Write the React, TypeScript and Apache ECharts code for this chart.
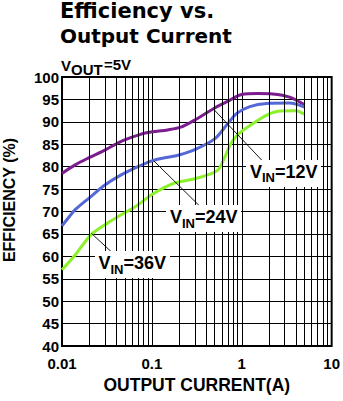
import React, { useEffect, useRef } from 'react';
import * as echarts from 'echarts';

// ---- data ----
const seriesNames = ['VIN=12V', 'VIN=24V', 'VIN=36V'];

const current12 = [0.01, 0.014, 0.02, 0.03, 0.045, 0.065, 0.09, 0.15, 0.21, 0.3, 0.5, 0.7, 1, 1.5, 2.2, 3.4, 5];
const eff12 = [78.5, 80.4, 82, 83.7, 85.6, 86.8, 87.6, 88.2, 88.8, 90.4, 93.1, 94.6, 96.1, 96.3, 96.2, 95.5, 93.8];

const current24 = [0.01, 0.0128, 0.014, 0.02, 0.03, 0.045, 0.07, 0.1, 0.15, 0.2, 0.3, 0.5, 0.68, 0.88, 1.23, 1.9, 3.4, 5];
const eff24 = [66.8, 69.5, 70.4, 73, 75.9, 78.1, 80, 81.3, 82.1, 82.6, 83.8, 86.2, 89.3, 91.9, 93.4, 94.1, 94.2, 93.3];

const current36 = [0.01, 0.014, 0.021, 0.032, 0.045, 0.069, 0.1, 0.176, 0.3, 0.45, 0.55, 0.65, 0.78, 0.96, 1.35, 1.9, 2.65, 4, 5];
const eff36 = [57, 60.3, 64.8, 67.4, 69.2, 71.4, 73.8, 76.3, 77.3, 78.4, 79.4, 82.2, 85.6, 87.6, 89.7, 91.5, 92.4, 92.5, 91.7];

const xTicks = [0.01, 0.1, 1, 10];
const xTickLabels = ['0.01', '0.1', '1', '10'];
const yMin = 40;
const yMax = 100;
const yStep = 5;

const minorGridValues = [
  0.02, 0.03, 0.04, 0.05, 0.06, 0.07, 0.08, 0.09,
  0.2, 0.3, 0.4, 0.5, 0.6, 0.7, 0.8, 0.9,
  2, 3, 4, 5, 6, 7, 8, 9,
];

// leader lines (data coords): [from, to]
const leader12 = [[0.487, 92.8], [1.81, 80.7]];
const leader24 = [[0.105, 81.3], [0.378, 70.3]];
const leader36 = [[0.0213, 65.1], [0.0368, 60.7]];

const titleLines = ['Efficiency vs.', 'Output Current'];
const xAxisName = 'OUTPUT CURRENT(A)';
const yAxisName = 'EFFICIENCY (%)';

const colors = ['#7b1d8e', '#5468d6', '#8cf02a'];

const ARIAL = '"Liberation Sans", Arial, Helvetica, sans-serif';
const DEJAVU = '"DejaVu Sans", sans-serif';

function zip(xs: number[], ys: number[]) {
  return xs.map((x, i) => [x, ys[i]]);
}

function vinLabel(x: number, y: number, rest: string, box: [number, number, number, number]) {
  return {
    type: 'group',
    z: 50,
    children: [
      { type: 'rect', shape: { x: box[0], y: box[1], width: box[2], height: box[3] }, style: { fill: '#fff' }, z: 50 },
      { type: 'text', x, y, z: 51, style: { text: 'V', font: `bold 18px ${ARIAL}`, fill: '#000', align: 'left', verticalAlign: 'middle' } },
      { type: 'text', x: x + 12, y: y + 6, z: 51, style: { text: 'IN', font: `bold 13px ${ARIAL}`, fill: '#000', align: 'left', verticalAlign: 'middle' } },
      { type: 'text', x: x + 25, y, z: 51, style: { text: rest, font: `bold 18px ${ARIAL}`, fill: '#000', align: 'left', verticalAlign: 'middle' } },
    ],
  };
}

export default function App() {
  const ref = useRef<HTMLDivElement>(null);

  useEffect(() => {
    if (!ref.current) return;
    const chart = echarts.init(ref.current, undefined, { renderer: 'svg' });

    const leaderLine = (pts: number[][]) => [{ coord: pts[0] }, { coord: pts[1] }];

    const option: any = {
      animation: false,
      backgroundColor: '#fff',
      grid: {
        show: true,
        left: 62,
        right: 9,
        top: 77,
        bottom: 55,
        borderColor: '#000',
        borderWidth: 2,
        backgroundColor: 'transparent',
      },
      xAxis: {
        type: 'log',
        logBase: 10,
        min: xTicks[0],
        max: xTicks[xTicks.length - 1],
        axisLine: { show: false },
        axisTick: { show: false },
        splitLine: { show: true, lineStyle: { color: '#000', width: 1 } },
        axisLabel: {
          color: '#000',
          fontFamily: ARIAL,
          fontWeight: 'bold',
          fontSize: 15,
          margin: 10,
          formatter: (v: number) => {
            let best = 0;
            xTicks.forEach((t, i) => {
              if (Math.abs(Math.log10(t) - Math.log10(v)) < Math.abs(Math.log10(xTicks[best]) - Math.log10(v))) best = i;
            });
            return xTickLabels[best];
          },
        },
        name: xAxisName,
        nameLocation: 'middle',
        nameGap: 19,
        nameTextStyle: { color: '#000', fontFamily: ARIAL, fontWeight: 'bold', fontSize: 17.5 },
      },
      yAxis: {
        type: 'value',
        min: yMin,
        max: yMax,
        interval: yStep,
        axisLine: { show: false },
        axisTick: { show: false },
        splitLine: { show: true, lineStyle: { color: '#000', width: 1 } },
        axisLabel: {
          color: '#000',
          fontFamily: ARIAL,
          fontWeight: 'bold',
          fontSize: 15,
          margin: 3,
        },
      },
      series: [
        {
          type: 'line',
          name: 'grid',
          z: 1,
          silent: true,
          data: [[xTicks[0], yMin]],
          showSymbol: false,
          lineStyle: { opacity: 0 },
          markLine: {
            silent: true,
            symbol: ['none', 'none'],
            label: { show: false },
            lineStyle: { color: '#000', width: 1, type: 'solid' },
            data: minorGridValues.map((v) => ({ xAxis: v })),
          },
        },
        {
          type: 'line',
          name: 'leaders',
          z: 2,
          silent: true,
          data: [[xTicks[0], yMin]],
          showSymbol: false,
          lineStyle: { opacity: 0 },
          markLine: {
            silent: true,
            symbol: ['none', 'none'],
            label: { show: false },
            lineStyle: { color: '#000', width: 0.9, type: 'solid' },
            data: [leaderLine(leader12), leaderLine(leader24), leaderLine(leader36)],
          },
        },
        ...[zip(current12, eff12), zip(current24, eff24), zip(current36, eff36)].map((d, i) => ({
          type: 'line',
          name: seriesNames[i],
          z: 3,
          data: d,
          showSymbol: false,
          smooth: 0.3,
          lineStyle: { color: colors[i], width: 3 },
          itemStyle: { color: colors[i] },
        })),
      ],
      graphic: [
        { type: 'text', x: 60, y: 11, style: { text: titleLines[0], font: `bold 21px ${DEJAVU}`, fill: '#000', align: 'left', verticalAlign: 'middle' } },
        { type: 'text', x: 60, y: 36, style: { text: titleLines[1], font: `bold 20px ${DEJAVU}`, fill: '#000', align: 'left', verticalAlign: 'middle' } },
        { type: 'text', x: 61, y: 65.5, style: { text: 'V', font: `bold 15px ${ARIAL}`, fill: '#000', align: 'left', verticalAlign: 'middle' } },
        { type: 'text', x: 71, y: 69.5, style: { text: 'OUT', font: `bold 15px ${ARIAL}`, fill: '#000', align: 'left', verticalAlign: 'middle' } },
        { type: 'text', x: 104, y: 64.5, style: { text: '=5V', font: `bold 15px ${ARIAL}`, fill: '#000', align: 'left', verticalAlign: 'middle' } },
        {
          type: 'text',
          x: 9.5,
          y: 200,
          rotation: Math.PI / 2,
          style: { text: yAxisName, font: `bold 16px ${ARIAL}`, fill: '#000', align: 'center', verticalAlign: 'middle' },
        },
        vinLabel(250, 171.5, '=12V', [246, 160, 75, 27]),
        vinLabel(170, 217.2, '=24V', [166, 205, 75, 27]),
        vinLabel(98.5, 263.2, '=36V', [95, 251, 75, 27]),
      ],
    };

    chart.setOption(option);
    return () => chart.dispose();
  }, []);

  return (
    <div
      ref={ref}
      style={{ position: 'fixed', left: 0, top: 0, width: 343, height: 401, background: '#fff' }}
    />
  );
}
